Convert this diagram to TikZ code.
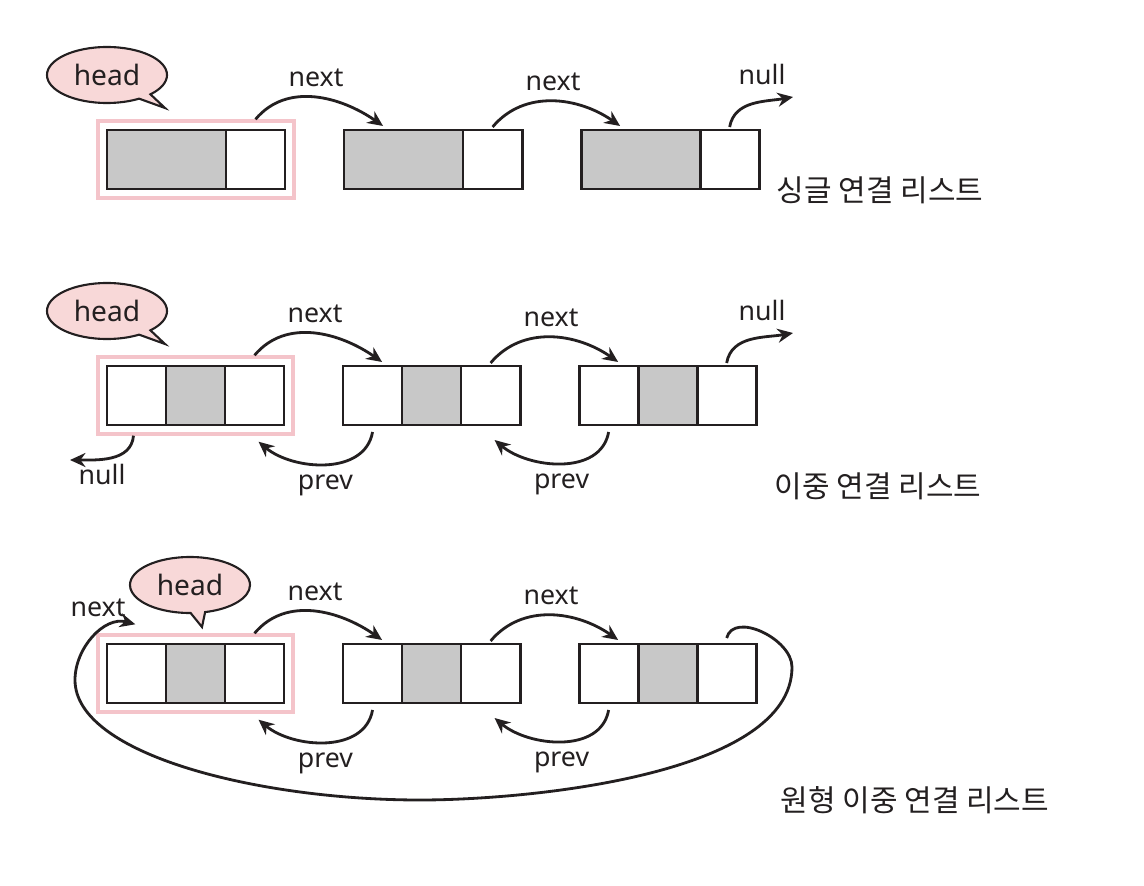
\documentclass[tikz,border=0pt]{standalone}
\usepackage{fontspec}
\setmainfont{Noto Sans}
\newfontfamily\krfont{Noto Sans CJK KR}
\usetikzlibrary{positioning,fit,calc,arrows.meta,shapes.callouts}
\definecolor{cellgray}{HTML}{C8C8C8}
\definecolor{headpink}{HTML}{F8D8D8}
\definecolor{markpink}{HTML}{F4C4CA}
\definecolor{ink}{HTML}{231F20}
\tikzset{
  cell/.style={draw=ink, line width=2pt, minimum width=1.475cm, minimum height=1.475cm, inner sep=0pt, outer sep=0pt},
  data/.style={cell, fill=cellgray},
  wide/.style={minimum width=2.975cm},
  headbox/.style={draw=markpink, line width=2.4pt, inner sep=0.225cm},
  bubble/.style={ellipse callout, draw=ink, fill=headpink, line width=1.5pt, minimum width=3cm, minimum height=1.4cm, callout pointer arc=14, font=\fontsize{20}{24}\selectfont, text=ink},
  link/.style={draw=ink, line width=2pt, -{Stealth[length=11pt,width=10pt]}},
  lbl/.style={font=\fontsize{19}{22}\selectfont, text=ink},
  title/.style={font=\krfont\fontsize{21.3}{26}\selectfont, text=ink}
}
\begin{document}
\begin{tikzpicture}[x=0.025cm,y=0.025cm]
        \useasboundingbox (0,0) rectangle (1144,-886);

        % single linked list
        \node[data, wide] (sd1) at (166.5,-159.5) {};
        \node[cell, right=0pt of sd1] (sn1) {};
        \node[data, wide, right=1.475cm of sn1] (sd2) {};
        \node[cell, right=0pt of sd2] (sn2) {};
        \node[data, wide, right=1.475cm of sn2] (sd3) {};
        \node[cell, right=0pt of sd3] (sn3) {};
        \node[headbox, fit=(sd1)(sn1)] (sh) {};
        \node[bubble, callout absolute pointer={(165,-108)}] (sb) at (107,-75) {head};
        \coordinate (snull) at (793,-97);

        \draw[link] (sh.north -| sn1) to[out=50,in=145] node[lbl, above=3pt] {next} ($(sd2.north west)+(39,4)$);
        \draw[link] ($(sn2.north)+(0,3)$) to[out=50,in=145] node[lbl, above=3pt] {next} ($(sd3.north west)+(39,4)$);
        \draw[link] ($(sn3.north)+(0,3)$) to[out=80,in=190] (snull);
        \node[lbl] at (762,-74) {null};
        \node[title] (st) at (880,-190) {싱글 연결 리스트};

        % doubly linked list
        \node[cell] (dp1) at (136.5,-395.5) {};
        \node[data, right=0pt of dp1] (dd1) {};
        \node[cell, right=0pt of dd1] (dn1) {};
        \node[cell, right=1.475cm of dn1] (dp2) {};
        \node[data, right=0pt of dp2] (dd2) {};
        \node[cell, right=0pt of dd2] (dn2) {};
        \node[cell, right=1.475cm of dn2] (dp3) {};
        \node[data, right=0pt of dp3] (dd3) {};
        \node[cell, right=0pt of dd3] (dn3) {};
        \node[headbox, fit=(dp1)(dn1)] (dh) {};
        \node[bubble, callout absolute pointer={(165,-344)}] (db) at (107,-311) {head};
        \coordinate (dnullR) at (793,-333);
        \coordinate (dnullL) at (70,-460);

        \draw[link] (dh.north -| dn1) to[out=50,in=145] node[lbl, above=3pt] {next} ($(dp2.north east)+(-20,4)$);
        \draw[link] ($(dn2.north)+(0,3)$) to[out=50,in=145] node[lbl, above=3pt] {next} ($(dp3.north east)+(-20,4)$);
        \draw[link] ($(dn3.north)+(0,3)$) to[out=80,in=190] (dnullR);
        \node[lbl] at (762,-310) {null};
        \draw[link] ($(dp2.south)+(0,-7)$) to[out=-100,in=-40] node[lbl, below=3pt] {prev} ($(dh.south -| dn1)+(4,-6)$);
        \draw[link] ($(dp3.south)+(0,-7)$) to[out=-100,in=-40] node[lbl, below=3pt] {prev} ($(dn2.south)+(4,-15)$);
        \draw[link] ($(dh.south -| dp1)+(-3,0)$) to[out=-95,in=0] (dnullL);
        \node[lbl] at (102,-474) {null};
        \node[title] (dt) at (878,-486) {이중 연결 리스트};

        % circular doubly linked list
        \node[cell] (cp1) at (136.5,-673.5) {};
        \node[data, right=0pt of cp1] (cd1) {};
        \node[cell, right=0pt of cd1] (cn1) {};
        \node[cell, right=1.475cm of cn1] (cp2) {};
        \node[data, right=0pt of cp2] (cd2) {};
        \node[cell, right=0pt of cd2] (cn2) {};
        \node[cell, right=1.475cm of cn2] (cp3) {};
        \node[data, right=0pt of cp3] (cd3) {};
        \node[cell, right=0pt of cd3] (cn3) {};
        \node[headbox, fit=(cp1)(cn1)] (ch) {};
        \node[bubble, callout absolute pointer={(202,-627)}] (cb) at (190,-585) {head};

        \draw[link] (ch.north -| cn1) to[out=50,in=145] node[lbl, above=3pt] {next} ($(cp2.north east)+(-20,4)$);
        \draw[link] ($(cn2.north)+(0,3)$) to[out=50,in=145] node[lbl, above=3pt] {next} ($(cp3.north east)+(-20,4)$);
        \draw[link] ($(cp2.south)+(0,-7)$) to[out=-100,in=-40] node[lbl, below=3pt] {prev} ($(ch.south -| cn1)+(4,-6)$);
        \draw[link] ($(cp3.south)+(0,-7)$) to[out=-100,in=-40] node[lbl, below=3pt] {prev} ($(cn2.south)+(4,-15)$);

        % loop back to head
        \draw[link] ($(cn3.north)+(0,6)$) to[out=75,in=90] (792,-667)
            .. controls (792,-775) and (528,-800) .. (420,-800)
            .. controls (260,-800) and (75,-755) .. (75,-680)
            to[out=90,in=165] ($(ch.north west)+(39,9)$);
        \node[lbl] at (98,-608) {next};
        \node[title] (ct) at (915,-800) {원형 이중 연결 리스트};
    \end{tikzpicture}
\end{document}
